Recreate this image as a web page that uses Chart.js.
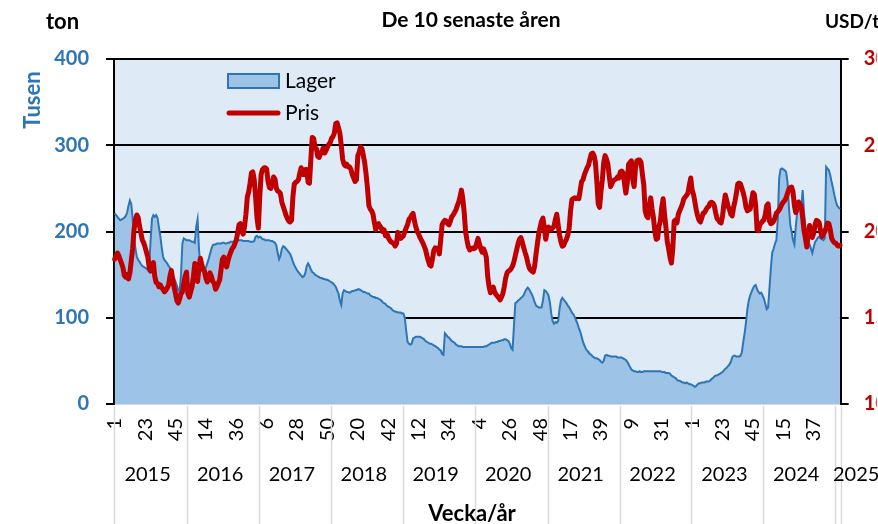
<!DOCTYPE html>
<html>
<head>
<meta charset="utf-8">
<script src="https://cdn.jsdelivr.net/npm/chart.js@4/dist/chart.umd.min.js"></script>
<style>
html,body{margin:0;padding:0;background:#fff;}
canvas{display:block;}
</style>
</head>
<body>
<canvas id="c" width="878" height="524"></canvas>
<script>
// ---- categories ----
const years = [2015,2016,2017,2018,2019,2020,2021,2022,2023,2024,2025];
const weeksInYear = [53,52,52,52,52,53,52,52,52,52,4];
const labelStep = 22; // every 22nd week is labelled

// ---- Lager (tusen ton), weekly ----
const lager2015 = [221,219,217,215,213,214,215,216,218,222,230,236,232,215,195,180,171,167,165,162,160,159,158,157,155,160,190,215,219,217,219,216,205,195,182,171,167,165,163,160,158,154,150,146,142,137,132,130,150,186,192,191,190];
const lager2016 = [190,190,189,188,188,187,205,214,180,160,155,153,155,158,163,168,174,180,184,185,185,186,186,186,186,187,187,186,186,187,187,188,188,188,189,189,190,190,190,190,189,189,189,189,189,188,188,188,189,194,195,193];
const lager2017 = [194,193,191,191,190,190,190,190,189,189,188,187,184,175,168,172,180,183,182,180,178,176,174,170,165,161,158,155,153,151,149,147,148,152,160,163,160,156,153,152,150,149,148,147,146,146,145,145,144,144,143,142];
const lager2018 = [141,140,138,136,132,128,120,115,128,132,131,130,130,129,130,131,131,132,132,133,133,132,131,130,130,129,128,128,126,125,124,124,123,123,122,121,120,118,117,116,114,113,112,111,109,108,107,107,106,106,106,105];
const lager2019 = [105,100,85,72,70,69,70,76,77,78,78,78,78,77,76,75,73,72,71,70,70,69,68,67,66,65,63,62,58,57,82,80,78,77,75,73,72,71,69,68,67,67,67,66,66,66,66,66,66,66,66,66];
const lager2020 = [66,66,66,66,66,66,66,67,67,68,69,70,71,71,71,72,72,73,73,74,74,75,75,74,73,70,65,63,90,117,118,120,121,123,124,126,130,133,135,133,130,127,123,118,114,113,112,112,112,120,132,131,129];
const lager2021 = [126,118,105,96,93,95,94,96,110,120,123,121,119,117,114,112,109,106,104,101,97,93,88,84,78,72,68,64,62,60,58,57,55,54,53,53,52,51,49,48,50,56,57,56,56,55,55,55,55,55,54,54];
const lager2022 = [54,54,53,52,51,49,46,43,40,39,38,38,37,37,38,37,37,38,38,38,38,38,38,38,38,38,38,38,38,38,37,37,37,36,36,36,35,33,32,31,30,28,27,27,26,25,25,24,25,24,23,23];
const lager2023 = [22,21,20,21,23,24,24,25,25,25,26,26,26,27,29,30,32,33,33,34,35,36,37,39,41,42,44,46,49,54,56,56,55,55,55,56,60,72,82,95,110,120,126,130,134,137,138,133,130,128,129,126];
const lager2024 = [122,116,110,112,135,158,176,180,186,190,215,262,272,273,272,271,269,258,230,208,200,190,185,205,222,226,227,228,248,222,205,195,188,185,180,175,182,188,190,193,194,192,191,190,192,275,273,271,265,257,250,242];
const lager2025 = [235,230,228,226];

// ---- Pris (USD/ton), weekly ----
const pris2015 = [1840,1860,1875,1860,1835,1815,1790,1745,1735,1750,1725,1760,1830,1900,2010,2070,2096,2080,2030,1990,1950,1935,1910,1880,1850,1790,1770,1800,1820,1740,1705,1700,1680,1690,1675,1665,1650,1660,1672,1690,1740,1775,1720,1678,1640,1600,1585,1610,1640,1650,1700,1740,1765];
const pris2016 = [1640,1620,1650,1680,1740,1815,1780,1710,1790,1845,1810,1780,1770,1730,1707,1730,1760,1740,1710,1700,1665,1680,1700,1720,1780,1840,1852,1820,1795,1830,1858,1880,1900,1910,1930,1950,1990,2040,2045,2000,1985,2030,2100,2200,2230,2280,2340,2345,2300,2200,2080,2020];
const pris2017 = [2200,2330,2360,2368,2370,2362,2290,2255,2250,2280,2316,2305,2250,2235,2230,2220,2170,2145,2120,2095,2075,2060,2055,2065,2200,2275,2285,2290,2300,2339,2370,2330,2330,2360,2360,2285,2280,2420,2545,2540,2490,2480,2435,2430,2450,2465,2485,2455,2470,2490,2505,2515];
const pris2018 = [2540,2550,2570,2625,2630,2600,2570,2500,2420,2390,2380,2390,2375,2375,2360,2330,2310,2290,2300,2440,2460,2490,2480,2440,2397,2330,2250,2150,2130,2120,2100,2050,2010,2040,2045,2030,2020,2000,2010,1975,1990,1965,1950,1940,1935,1930,1915,1930,1995,1965,1960,1968];
const pris2019 = [1975,2000,2020,2040,2070,2080,2095,2105,2060,2026,2000,1985,1965,1950,1935,1915,1895,1860,1830,1806,1800,1840,1890,1905,1900,1904,1870,1950,2040,2055,2065,2060,2045,2038,2060,2085,2096,2110,2125,2150,2170,2200,2240,2190,2110,2000,1950,1910,1893,1900,1904,1900];
const pris2020 = [1905,1930,1960,1930,1900,1880,1900,1880,1850,1740,1680,1645,1660,1678,1650,1635,1625,1615,1603,1620,1640,1680,1730,1760,1770,1775,1785,1800,1825,1860,1895,1930,1955,1965,1940,1910,1880,1855,1820,1790,1777,1770,1765,1800,1870,1930,1990,2026,2060,2078,2020,1955,2000];
const pris2021 = [2026,2015,2010,2020,2030,2070,2100,2040,1980,1940,1915,1920,1940,1955,1980,2020,2120,2185,2190,2195,2190,2195,2190,2240,2290,2300,2330,2350,2370,2385,2420,2450,2455,2440,2400,2290,2160,2140,2230,2300,2400,2440,2420,2390,2320,2260,2280,2295,2300,2305,2316,2310];
const pris2022 = [2345,2350,2340,2280,2223,2280,2390,2400,2410,2300,2260,2370,2410,2414,2414,2400,2330,2270,2120,2090,2080,2150,2195,2130,2080,2000,1955,1960,2030,2060,2140,2190,2100,2026,1940,1900,1850,1817,1900,2060,2067,2050,2100,2120,2140,2160,2190,2200,2210,2223,2270,2310];
const pris2023 = [2240,2215,2170,2125,2090,2065,2055,2080,2107,2110,2125,2140,2145,2165,2170,2165,2150,2110,2075,2067,2055,2050,2090,2160,2212,2180,2145,2130,2100,2090,2140,2175,2220,2275,2281,2275,2250,2225,2190,2140,2120,2125,2130,2175,2225,2215,2150,2010,2005,2040,2050,2060];
const pris2024 = [2067,2100,2150,2160,2060,2045,2050,2060,2080,2107,2115,2125,2140,2160,2170,2180,2195,2220,2245,2255,2258,2230,2150,2110,2140,2171,2160,2145,2080,2005,1960,1910,1990,2035,2000,1965,1990,2040,2065,2060,2050,2000,1970,1985,2000,2020,2049,2045,2010,1960,1945,1935];
const pris2025 = [1933,1920,1915,1920];

// ---- axis ticks ----
const leftTicks = [0,100,200,300,400];
const rightTicks = [1000,1500,2000,2500,3000];

// ---- build ----
const weekLabels = [];
years.forEach((y,i)=>{ for(let w=1; w<=weeksInYear[i]; w++) weekLabels.push(String(w)); });
const lager = [].concat(lager2015,lager2016,lager2017,lager2018,lager2019,lager2020,lager2021,lager2022,lager2023,lager2024,lager2025);
const pris = [].concat(pris2015,pris2016,pris2017,pris2018,pris2019,pris2020,pris2021,pris2022,pris2023,pris2024,pris2025);

const FONT = 'Lato, "Open Sans", sans-serif';
const BLUE = '#2E75B6', RED = '#C00000', FILL = '#9DC3E6', BG = '#DEEBF7';

const deco = {
  id: 'deco',
  beforeDraw(chart){
    const {ctx, chartArea:a} = chart;
    ctx.save();
    ctx.fillStyle = '#fff'; ctx.fillRect(0,0,chart.width,chart.height);
    ctx.fillStyle = BG; ctx.fillRect(a.left,a.top,a.right-a.left,a.bottom-a.top);
    ctx.restore();
  },
  afterDraw(chart){
    const {ctx, chartArea:a} = chart;
    const xs = chart.scales.x;
    ctx.save();
    // year separators and labels
    let start = 0;
    ctx.strokeStyle = '#D9D9D9'; ctx.lineWidth = 1.5;
    ctx.font = '20px ' + FONT; ctx.fillStyle = '#000'; ctx.textBaseline = 'middle';
    years.forEach((y,i)=>{
      const x0 = xs.getPixelForValue(start - 0.5);
      const x1 = xs.getPixelForValue(start + weeksInYear[i] - 0.5);
      ctx.beginPath(); ctx.moveTo(Math.round(x0)+0.5, a.bottom+2); ctx.lineTo(Math.round(x0)+0.5, chart.height); ctx.stroke();
      if (i === years.length-1) {
        ctx.beginPath(); ctx.moveTo(Math.round(x1)+0.5, a.bottom+2); ctx.lineTo(Math.round(x1)+0.5, chart.height); ctx.stroke();
        ctx.textAlign = 'left'; ctx.fillText(String(y), 833, 475);
      } else {
        ctx.textAlign = 'center'; ctx.fillText(String(y), (x0+x1)/2 - 3, 475);
      }
      start += weeksInYear[i];
    });
    // titles
    ctx.fillStyle = '#000';
    ctx.font = 'bold 21px ' + FONT; ctx.textAlign = 'center'; ctx.textBaseline = 'middle';
    ctx.fillText('De 10 senaste åren', 471, 20);
    ctx.font = 'bold 22px ' + FONT; ctx.textAlign = 'left';
    ctx.fillText('ton', 46, 22);
    ctx.font = 'bold 19px ' + FONT;
    ctx.fillText('USD/ton', 825, 22);
    ctx.font = 'bold 22px ' + FONT; ctx.textAlign = 'center'; ctx.textBaseline = 'top';
    ctx.fillText('Vecka/år', 472, 503);
    ctx.save();
    ctx.translate(33, 100); ctx.rotate(-Math.PI/2);
    ctx.fillStyle = BLUE; ctx.font = 'bold 22px ' + FONT; ctx.textBaseline = 'middle';
    ctx.fillText('Tusen', 0, 0);
    ctx.restore();
    // legend
    ctx.fillStyle = FILL; ctx.strokeStyle = BLUE; ctx.lineWidth = 2;
    ctx.fillRect(228,74,51,14); ctx.strokeRect(228,74,51,14);
    ctx.strokeStyle = RED; ctx.lineWidth = 5; ctx.lineCap = 'round';
    ctx.beginPath(); ctx.moveTo(229,113); ctx.lineTo(278,113); ctx.stroke();
    ctx.fillStyle = '#000'; ctx.font = '21px ' + FONT; ctx.textAlign = 'left'; ctx.textBaseline = 'middle';
    ctx.fillText('Lager', 285, 81);
    ctx.fillText('Pris', 285, 113);
    ctx.restore();
  }
};

new Chart(document.getElementById('c'), {
  type: 'line',
  data: {
    labels: weekLabels,
    datasets: [
      { label: 'Pris', data: pris, yAxisID: 'y1', borderColor: RED, borderWidth: 5,
        pointRadius: 0, fill: false, tension: 0, order: 0, borderJoinStyle: 'round', borderCapStyle: 'round' },
      { label: 'Lager', data: lager, yAxisID: 'y', borderColor: BLUE, borderWidth: 2,
        backgroundColor: FILL, pointRadius: 0, fill: 'origin', tension: 0, order: 1 }
    ]
  },
  options: {
    responsive: false, animation: false, devicePixelRatio: 1,
    layout: { padding: { left: 0, right: 0, top: 59, bottom: 0 } },
    plugins: { legend: { display: false }, tooltip: { enabled: false }, title: { display: false } },
    scales: {
      x: {
        type: 'category', offset: true,
        grid: { display: false, drawTicks: false },
        border: { display: true, color: '#D9D9D9', width: 2 },
        ticks: {
          autoSkip: false, minRotation: 90, maxRotation: 90, padding: 14,
          color: '#000', font: { family: FONT, size: 20 },
          callback: (v, i) => (i % labelStep === 0 ? weekLabels[i] : '')
        },
        afterFit: (s) => { s.height = 120; }
      },
      y: {
        position: 'left', min: 0, max: 400,
        afterBuildTicks: (s) => { s.ticks = leftTicks.map(v => ({value: v})); },
        grid: {
          color: (c) => (c.tick && c.tick.value === 0 ? 'rgba(0,0,0,0)' : '#000'),
          tickColor: '#000', lineWidth: 2, tickLength: 8
        },
        border: { display: true, color: '#000', width: 2 },
        ticks: { color: BLUE, font: { family: FONT, size: 20, weight: 'bold' }, padding: 17 },
        afterFit: (s) => { s.width = 114; }
      },
      y1: {
        position: 'right', min: 1000, max: 3000,
        afterBuildTicks: (s) => { s.ticks = rightTicks.map(v => ({value: v})); },
        grid: { drawOnChartArea: false, tickColor: '#000', lineWidth: 2, tickLength: 8 },
        border: { display: true, color: '#000', width: 2 },
        ticks: { color: RED, font: { family: FONT, size: 20, weight: 'bold' }, padding: 15,
          callback: (v) => String(v) },
        afterFit: (s) => { s.width = 36; }
      }
    }
  },
  plugins: [deco]
});
</script>
</body>
</html>
